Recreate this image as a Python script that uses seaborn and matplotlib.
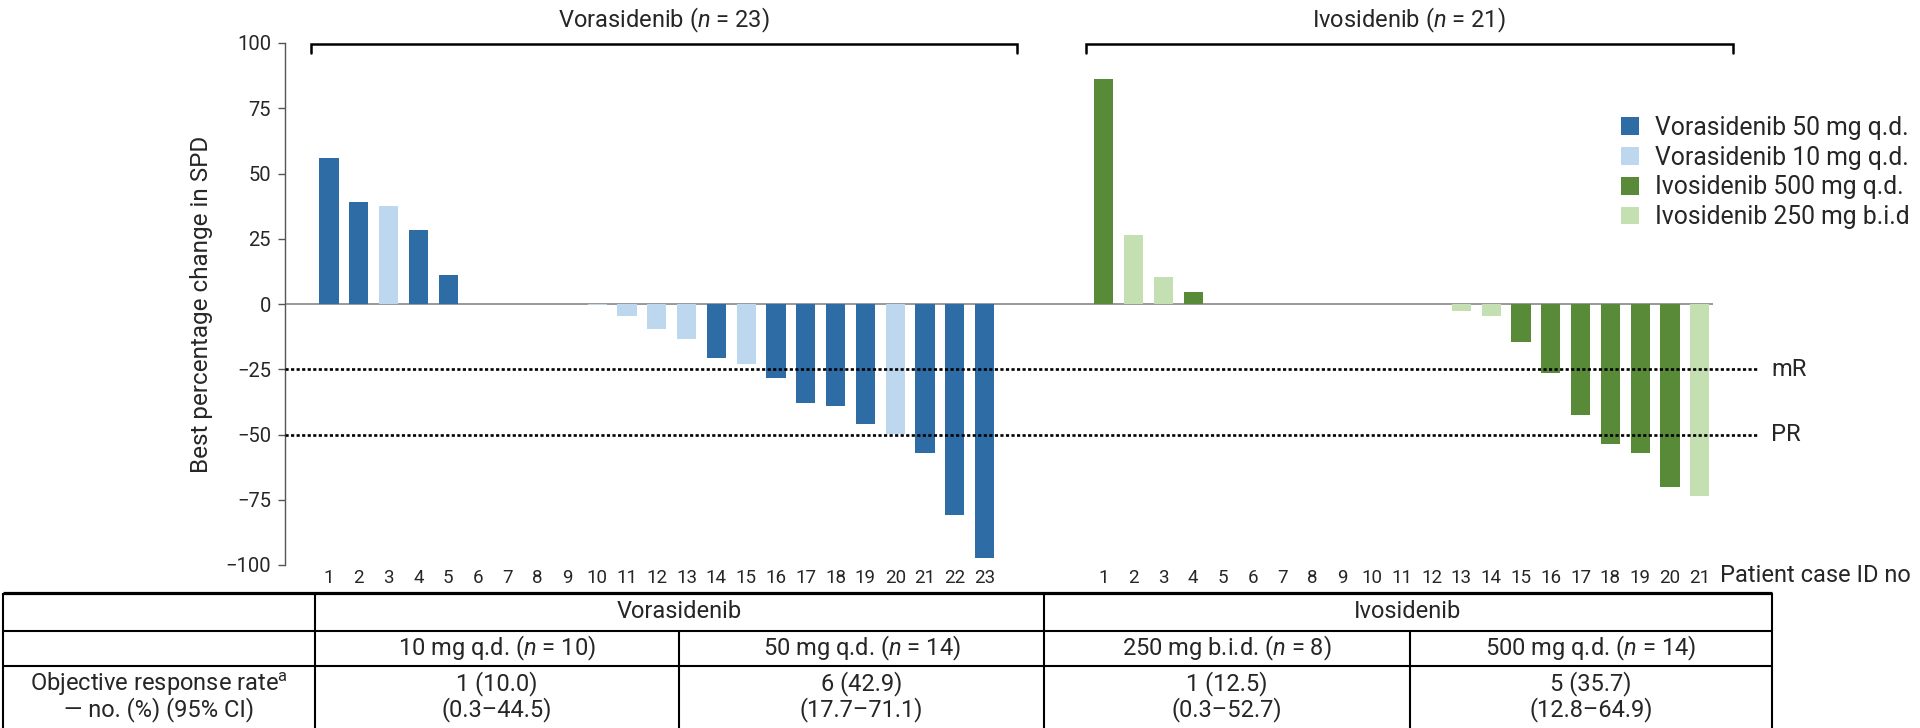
import numpy as np
import matplotlib.pyplot as plt
import pandas as pd
import seaborn as sns

# best % change in SPD
vora_values = [56, 39, 37.5, 28.5, 11, 0, 0, 0, 0, -0.5, -4.5, -9.7, -13.3, -20.7,
               -23, -28.5, -37.9, -39.1, -45.8, -49.7, -57, -80.8, -97.4]
vora_groups = ['V50', 'V50', 'V10', 'V50', 'V50', 'V10', 'V10', 'V10', 'V50', 'V10',
               'V10', 'V10', 'V10', 'V50', 'V10', 'V50', 'V50', 'V50', 'V50', 'V10',
               'V50', 'V50', 'V50']
ivo_values = [86.2, 26.6, 10.4, 4.6, 0, 0, 0, 0, 0, 0, 0, 0, -2.8, -4.6, -14.4,
              -26.3, -42.6, -53.6, -57.1, -70, -73.6]
ivo_groups = ['I500', 'I250', 'I250', 'I500', 'I500', 'I250', 'I500', 'I250', 'I500',
              'I250', 'I500', 'I250', 'I250', 'I250', 'I500', 'I500', 'I500', 'I500',
              'I500', 'I500', 'I250']

group_names = {'V50': 'Vorasidenib 50 mg q.d.', 'V10': 'Vorasidenib 10 mg q.d.',
               'I500': 'Ivosidenib 500 mg q.d.', 'I250': 'Ivosidenib 250 mg b.i.d'}
group_colors = {'V50': '#2e6ca6', 'V10': '#bdd7ee', 'I500': '#588a38', 'I250': '#c4dfb2'}
group_order = ['V50', 'V10', 'I500', 'I250']

arm_titles = ['Vorasidenib ($n$ = 23)', 'Ivosidenib ($n$ = 21)']
gap = 3  # empty slots between the two arms

thresholds = [-25, -50]
threshold_labels = ['mR', 'PR']

table_head = ['Vorasidenib', 'Ivosidenib']
table_doses = ['10 mg q.d. ($n$ = 10)', '50 mg q.d. ($n$ = 14)',
               '250 mg b.i.d. ($n$ = 8)', '500 mg q.d. ($n$ = 14)']
table_orr = ['1 (10.0)', '6 (42.9)', '1 (12.5)', '5 (35.7)']
table_ci = ['(0.3–44.5)', '(17.7–71.1)', '(0.3–52.7)', '(12.8–64.9)']
row_label = ['Objective response rate$^{\\mathrm{a}}$', '— no. (%) (95% CI)']

# build the frame
n_v, n_i = len(vora_values), len(ivo_values)
pos_v = np.arange(n_v)
pos_i = np.arange(n_i) + n_v + gap
df = pd.DataFrame({
    'pos': np.concatenate([pos_v, pos_i]),
    'value': vora_values + ivo_values,
    'group': [group_names[g] for g in vora_groups + ivo_groups],
})
ticklabels = [str(i + 1) for i in range(n_v)] + [str(i + 1) for i in range(n_i)]

sns.set_theme(style='white')
plt.rcParams['font.family'] = ['Roboto', 'DejaVu Sans']
plt.rcParams['mathtext.fontset'] = 'custom'
plt.rcParams['mathtext.rm'] = 'Roboto'
plt.rcParams['mathtext.it'] = 'Roboto:italic'

W, H = 1920, 728
fig = plt.figure(figsize=(W / 100, H / 100), dpi=100)

# table drawn in pixel coordinates
tab = fig.add_axes([0, 0, 1, 1])
tab.set_xlim(0, W)
tab.set_ylim(H, 0)
tab.axis('off')
tab.patch.set_alpha(0)

xl, xc1, xc2, xr = 3, 315, 1044, 1772
xs = [xl, xc1, 679, xc2, 1410, xr]
y0, y1, y2 = 593, 631, 666
tab.hlines(y0, xl, xr, color='black', lw=2.3)
tab.hlines([y1, y2], xl, xr, color='black', lw=1.5)
tab.vlines([xl, xc1, xc2, xr], y0, H, color='black', lw=1.5)
tab.vlines([xs[2], xs[4]], y1, H, color='black', lw=1.5)
fs_tab = 17
tab.text((xc1 + xc2) / 2, (y0 + y1) / 2, table_head[0], ha='center', va='center', fontsize=fs_tab)
tab.text((xc2 + xr) / 2, (y0 + y1) / 2, table_head[1], ha='center', va='center', fontsize=fs_tab)
cols = [xc1, xs[2], xc2, xs[4], xr]
for j in range(4):
    cx = (cols[j] + cols[j + 1]) / 2
    tab.text(cx, (y1 + y2) / 2, table_doses[j], ha='center', va='center', fontsize=fs_tab)
    tab.text(cx, 684, table_orr[j], ha='center', va='center', fontsize=fs_tab)
    tab.text(cx, 710, table_ci[j], ha='center', va='center', fontsize=fs_tab)
tab.text((xl + xc1) / 2, 684, row_label[0], ha='center', va='center', fontsize=fs_tab)
tab.text((xl + xc1) / 2, 710, row_label[1], ha='center', va='center', fontsize=fs_tab)

# waterfall
x0_px, step = 329, 29.8
xmin, xmax = -(x0_px - 285) / step, 48
ax = fig.add_axes([285 / W, 1 - 565 / H, (xmax - xmin) * step / W, (565 - 43) / H])
ax.patch.set_alpha(0)
sns.barplot(data=df, x='pos', y='value', hue='group', native_scale=True, dodge=False,
            hue_order=[group_names[g] for g in group_order],
            palette={group_names[g]: group_colors[g] for g in group_order},
            width=0.65, saturation=1, linewidth=0, ax=ax)
ax.set_xlim(xmin, xmax)
ax.set_ylim(-100, 100)
ax.set_yticks(np.arange(-100, 101, 25))
ax.set_xticks(np.concatenate([pos_v, pos_i]))
ax.set_xticklabels(ticklabels)
ax.tick_params(axis='x', length=0, pad=3, labelsize=13.5)
ax.tick_params(axis='y', length=5, width=1, color='#555555', pad=5, labelsize=14.5, left=True)
for s in ['top', 'right', 'bottom']:
    ax.spines[s].set_visible(False)
ax.spines['left'].set_color('#555555')
ax.spines['left'].set_linewidth(1)
ax.set_xlabel('')
ax.set_ylabel('Best percentage change in SPD', fontsize=17.5, labelpad=9)

ax.hlines(0, xmin, pos_i[-1] + 0.45, color='#888888', lw=1.2, zorder=0)
for t, lab in zip(thresholds, threshold_labels):
    ax.axhline(t, color='black', lw=1.9, ls=(0, (1.2, 0.9)), zorder=3)
    ax.text(48.4, t, lab, ha='left', va='center', fontsize=17, clip_on=False)

# arm brackets
for title, pos in zip(arm_titles, [pos_v, pos_i]):
    a, b = pos[0] - 0.6, pos[-1] + 1.1
    ax.plot([a, a, b, b], [96.3, 99.6, 99.6, 96.3], color='black', lw=1.8,
            clip_on=False, solid_joinstyle='miter')
    ax.text((a + b) / 2, 108.8, title, ha='center', va='center', fontsize=17, clip_on=False)

fig.text(1720 / W, 1 - 576 / H, 'Patient case ID no', ha='left', va='center', fontsize=17)

sns.move_legend(ax, 'upper left', bbox_to_anchor=(1621 / W, 1 - 116 / H),
                bbox_transform=fig.transFigure, frameon=False, title=None,
                fontsize=17.8, handlelength=0.73, handleheight=0.73, handletextpad=0.65,
                labelspacing=0.23, borderpad=0, borderaxespad=0)

fig.savefig('out.png', dpi=100)
